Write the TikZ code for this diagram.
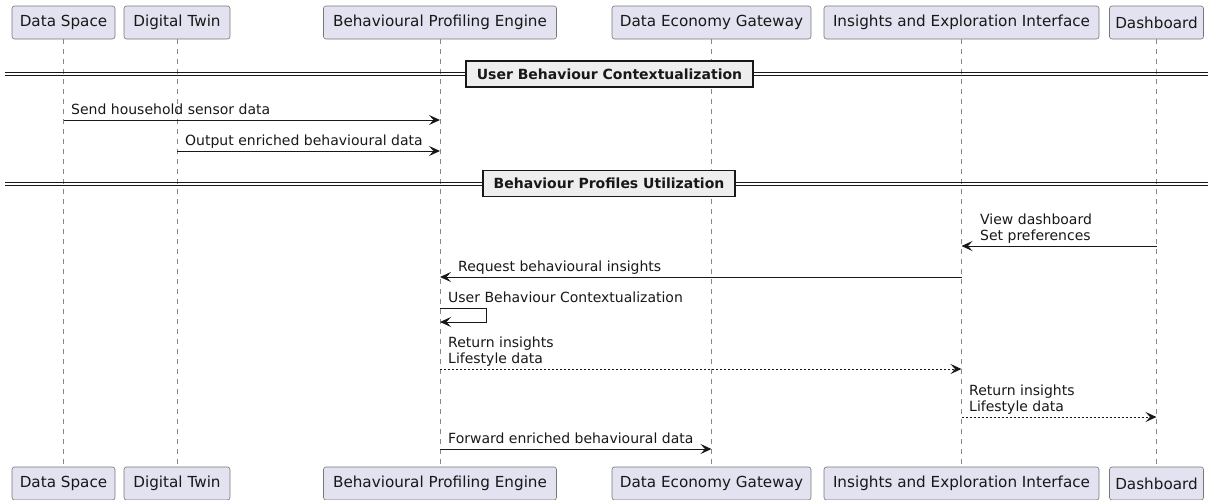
\documentclass[tikz,border=0pt]{standalone}
\usepackage{fontspec}
\setmainfont{DejaVu Sans}
\usetikzlibrary{arrows.meta}
\definecolor{partfill}{HTML}{E2E2F0}
\definecolor{ink}{HTML}{181818}
\definecolor{edge}{HTML}{777777}
\definecolor{lifec}{HTML}{888888}
\definecolor{divfill}{HTML}{EEEEEE}
\newcommand{\dsc}{\rule[-3.3pt]{0pt}{0pt}}
\tikzset{
  part/.style={draw=edge, line width=0.6pt, fill=partfill, rounded corners=2.5pt,
    minimum height=33pt, inner sep=0pt, text=ink, font=\fontsize{15.2}{18}\selectfont},
  life/.style={draw=lifec, line width=0.6pt, dash pattern=on 5pt off 5pt},
  msg/.style={draw=ink, line width=1pt, -{Stealth[length=11pt,width=10pt,inset=4.5pt]}},
  rmsg/.style={msg, dash pattern=on 2pt off 2pt},
  lbl/.style={anchor=south west, inner sep=0pt, align=left, text=ink,
    font=\fontsize{14}{16}\selectfont},
  divline/.style={draw=ink, line width=1pt},
  divbox/.style={draw=ink, line width=1.5pt, fill=divfill, inner sep=0pt,
    minimum height=26pt, text=ink, font=\fontsize{14}{16}\selectfont\bfseries},
}
\begin{document}
\begin{tikzpicture}[x=1pt,y=-1pt]
\useasboundingbox (0,0) rectangle (1208,499);
% participants top
\node[part, minimum width=103pt] (dsT)  at (63.5,22.5) {Data Space};
\node[part, minimum width=106pt] (dtT)  at (177,22.5) {Digital Twin};
\node[part, minimum width=233pt] (bpeT) at (440,22.5) {Behavioural Profiling Engine};
\node[part, minimum width=199pt] (degT) at (711.5,22.5) {Data Economy Gateway};
\node[part, minimum width=275pt] (ieiT) at (961.5,22.5) {Insights and Exploration Interface};
\node[part, minimum width=94pt]  (dbT)  at (1156.5,22.5) {Dashboard};
% participants bottom
\node[part, minimum width=103pt] (dsB)  at (63.5,483.5) {Data Space};
\node[part, minimum width=106pt] (dtB)  at (177,483.5) {Digital Twin};
\node[part, minimum width=233pt] (bpeB) at (440,483.5) {Behavioural Profiling Engine};
\node[part, minimum width=199pt] (degB) at (711.5,483.5) {Data Economy Gateway};
\node[part, minimum width=275pt] (ieiB) at (961.5,483.5) {Insights and Exploration Interface};
\node[part, minimum width=94pt]  (dbB)  at (1156.5,483.5) {Dashboard};
% lifelines
\foreach \p in {ds,dt,bpe,deg,iei,db}{
  \draw[life] (\p T.south) -- (\p B.north);
}
% divider 1
\draw[divline] (5,72) -- (1208,72);
\draw[divline] (5,75.5) -- (1208,75.5);
\node[divbox, minimum width=287pt] (div1) at (609.5,74) {User Behaviour Contextualization};
% divider 2
\draw[divline] (5,182) -- (1208,182);
\draw[divline] (5,185.5) -- (1208,185.5);
\node[divbox, minimum width=252pt] (div2) at (609,183.5) {Behaviour Profiles Utilization};
% messages
\draw[msg] (0,120 -| dsT.south) -- (0,120 -| bpeT.south);
\node[lbl] (m1) at (71,118) {Send household sensor data\dsc};
\draw[msg] (0,151 -| dtT.south) -- (0,151 -| bpeT.south);
\node[lbl] (m2) at (185,149) {Output enriched behavioural data\dsc};
\draw[msg] (0,246 -| dbT.south) -- (0,246 -| ieiT.south);
\node[lbl] (m3) at (980,244) {View dashboard\\Set preferences\dsc};
\draw[msg] (0,277 -| ieiT.south) -- (0,277 -| bpeT.south);
\node[lbl] (m4) at (458,275) {Request behavioural insights\dsc};
\draw[msg] (0,308 -| bpeT.south) -- (486,308) -- (486,322) -- (0,322 -| bpeT.south);
\node[lbl] (m5) at (448,306) {User Behaviour Contextualization\dsc};
\draw[rmsg] (0,369 -| bpeT.south) -- (0,369 -| ieiT.south);
\node[lbl] (m6) at (448,367) {Return insights\\Lifestyle data\dsc};
\draw[rmsg] (0,417 -| ieiT.south) -- (0,417 -| dbT.south);
\node[lbl] (m7) at (969,415) {Return insights\\Lifestyle data\dsc};
\draw[msg] (0,449 -| bpeT.south) -- (0,449 -| degT.south);
\node[lbl] (m8) at (448,447) {Forward enriched behavioural data\dsc};
\end{tikzpicture}
\end{document}
